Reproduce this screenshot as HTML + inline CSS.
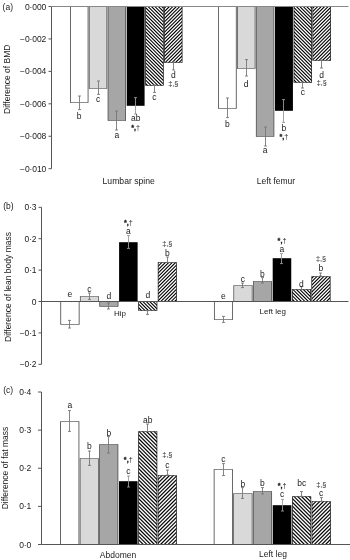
<!DOCTYPE html>
<html><head><meta charset="utf-8"><title>Figure</title>
<style>
html,body{margin:0;padding:0;background:#fff;}
body{width:350px;height:560px;overflow:hidden;}
svg{display:block;filter:grayscale(1);font-family:"Liberation Sans",sans-serif;fill:#1a1a1a;}
</style></head>
<body>
<svg width="350" height="560" viewBox="0 0 350 560">
<defs>
<linearGradient id="gab" gradientUnits="userSpaceOnUse" x1="0" y1="0" x2="1.7250" y2="-1.7250" spreadMethod="repeat"><stop offset="0" stop-color="#000"/><stop offset="0.03" stop-color="#000"/><stop offset="0.42" stop-color="#fff"/><stop offset="0.5800000000000001" stop-color="#fff"/><stop offset="0.97" stop-color="#000"/><stop offset="1" stop-color="#000"/></linearGradient>
<linearGradient id="gaf" gradientUnits="userSpaceOnUse" x1="0" y1="0" x2="1.7250" y2="1.7250" spreadMethod="repeat"><stop offset="0" stop-color="#000"/><stop offset="0.03" stop-color="#000"/><stop offset="0.42" stop-color="#fff"/><stop offset="0.5800000000000001" stop-color="#fff"/><stop offset="0.97" stop-color="#000"/><stop offset="1" stop-color="#000"/></linearGradient>
<linearGradient id="gbb" gradientUnits="userSpaceOnUse" x1="0" y1="0" x2="1.7250" y2="-1.7250" spreadMethod="repeat"><stop offset="0" stop-color="#000"/><stop offset="0.03" stop-color="#000"/><stop offset="0.42" stop-color="#fff"/><stop offset="0.5800000000000001" stop-color="#fff"/><stop offset="0.97" stop-color="#000"/><stop offset="1" stop-color="#000"/></linearGradient>
<linearGradient id="gbf" gradientUnits="userSpaceOnUse" x1="0" y1="0" x2="1.7250" y2="1.7250" spreadMethod="repeat"><stop offset="0" stop-color="#000"/><stop offset="0.03" stop-color="#000"/><stop offset="0.42" stop-color="#fff"/><stop offset="0.5800000000000001" stop-color="#fff"/><stop offset="0.97" stop-color="#000"/><stop offset="1" stop-color="#000"/></linearGradient>
<linearGradient id="gcb" gradientUnits="userSpaceOnUse" x1="0" y1="0" x2="1.8750" y2="-1.8750" spreadMethod="repeat"><stop offset="0" stop-color="#000"/><stop offset="0.03" stop-color="#000"/><stop offset="0.42" stop-color="#fff"/><stop offset="0.5800000000000001" stop-color="#fff"/><stop offset="0.97" stop-color="#000"/><stop offset="1" stop-color="#000"/></linearGradient>
<linearGradient id="gcf" gradientUnits="userSpaceOnUse" x1="0" y1="0" x2="1.8750" y2="1.8750" spreadMethod="repeat"><stop offset="0" stop-color="#000"/><stop offset="0.03" stop-color="#000"/><stop offset="0.42" stop-color="#fff"/><stop offset="0.5800000000000001" stop-color="#fff"/><stop offset="0.97" stop-color="#000"/><stop offset="1" stop-color="#000"/></linearGradient>

<pattern id="hb" patternUnits="userSpaceOnUse" width="1.8" height="10" patternTransform="rotate(-38)">
<rect x="0" y="0" width="1.8" height="10" fill="#fff"/><rect x="0" y="0" width="0.95" height="10" fill="#000"/>
</pattern>
<pattern id="hf" patternUnits="userSpaceOnUse" width="1.8" height="10" patternTransform="rotate(38)">
<rect x="0" y="0" width="1.8" height="10" fill="#fff"/><rect x="0" y="0" width="0.95" height="10" fill="#000"/>
</pattern>
</defs>
<rect x="0" y="0" width="350" height="560" fill="#fff"/>
<path d="M51.5 6.5V168.7" stroke="#555" stroke-width="1" fill="none"/>
<path d="M48.5 6.50h3" stroke="#555" stroke-width="1"/>
<text x="46.20" y="9.50" font-size="8.5" text-anchor="end"  letter-spacing="-0.1">0·000</text>
<path d="M48.5 38.94h3" stroke="#555" stroke-width="1"/>
<text x="46.20" y="41.94" font-size="8.5" text-anchor="end"  letter-spacing="-0.1">−0·002</text>
<path d="M48.5 71.38h3" stroke="#555" stroke-width="1"/>
<text x="46.20" y="74.38" font-size="8.5" text-anchor="end"  letter-spacing="-0.1">−0·004</text>
<path d="M48.5 103.82h3" stroke="#555" stroke-width="1"/>
<text x="46.20" y="106.82" font-size="8.5" text-anchor="end"  letter-spacing="-0.1">−0·006</text>
<path d="M48.5 136.26h3" stroke="#555" stroke-width="1"/>
<text x="46.20" y="139.26" font-size="8.5" text-anchor="end"  letter-spacing="-0.1">−0·008</text>
<path d="M48.5 168.70h3" stroke="#555" stroke-width="1"/>
<text x="46.20" y="171.70" font-size="8.5" text-anchor="end"  letter-spacing="-0.1">−0·010</text>
<text x="2.60" y="10.00" font-size="8.5" text-anchor="start" >(a)</text>
<text transform="translate(10.3 79.3) rotate(-90)" font-size="8.5" text-anchor="middle">Difference of BMD</text>
<rect x="70.40" y="6.50" width="17.66" height="96.00" fill="#ffffff"/>
<path fill-rule="evenodd" fill="#1a1a1a" d="M70.08 6.17H88.38V102.83H70.08ZM70.73 6.83H87.73V102.17H70.73Z"/>
<rect x="89.21" y="6.50" width="17.66" height="82.00" fill="#d9d9d9"/>
<path fill-rule="evenodd" fill="#333" d="M88.88 6.17H107.19V88.83H88.88ZM89.53 6.83H106.54V88.17H89.53Z"/>
<rect x="108.02" y="6.50" width="17.66" height="114.00" fill="#a6a6a6"/>
<path fill-rule="evenodd" fill="#333" d="M107.69 6.17H126.00V120.83H107.69ZM108.34 6.83H125.35V120.17H108.34Z"/>
<rect x="126.73" y="6.20" width="17.86" height="99.60" fill="#000"/>
<rect x="145.63" y="6.50" width="17.66" height="79.00" fill="url(#gab)"/>
<path fill-rule="evenodd" fill="#000" d="M145.31 6.17H163.62V85.83H145.31ZM145.96 6.83H162.97V85.17H145.96Z"/>
<rect x="164.44" y="6.50" width="17.66" height="56.00" fill="url(#gaf)"/>
<path fill-rule="evenodd" fill="#000" d="M164.12 6.17H182.42V62.83H164.12ZM164.77 6.83H181.78V62.17H164.77Z"/>
<path d="M79.50 96.00V109.60M78.00 96.00h3.0M78.00 109.60h3.0" stroke="#777" stroke-width="0.9" fill="none"/>
<path d="M98.50 81.00V94.40M97.00 81.00h3.0M97.00 94.40h3.0" stroke="#777" stroke-width="0.9" fill="none"/>
<path d="M116.50 111.00V130.00M115.00 111.00h3.0M115.00 130.00h3.0" stroke="#777" stroke-width="0.9" fill="none"/>
<path d="M135.50 97.60V114.00M134.00 97.60h3.0M134.00 114.00h3.0" stroke="#999" stroke-width="0.9" fill="none"/>
<path d="M154.50 85.00V92.40M153.00 85.00h3.0M153.00 92.40h3.0" stroke="#777" stroke-width="0.9" fill="none"/>
<path d="M173.50 62.00V70.00M172.00 62.00h3.0M172.00 70.00h3.0" stroke="#777" stroke-width="0.9" fill="none"/>
<text x="79.23" y="119.31" font-size="8.5" text-anchor="middle" >b</text>
<text x="98.04" y="101.91" font-size="8.5" text-anchor="middle" >c</text>
<text x="116.85" y="138.01" font-size="8.5" text-anchor="middle" >a</text>
<text x="135.65" y="121.21" font-size="8.5" text-anchor="middle" >ab</text>
<text x="135.65" y="130.26" font-size="7.2" text-anchor="middle" ><tspan font-weight="bold" stroke="#222" stroke-width="0.3">*,</tspan>†</text>
<text x="154.46" y="99.91" font-size="8.5" text-anchor="middle" >c</text>
<text x="173.27" y="77.81" font-size="8.5" text-anchor="middle" >d</text>
<text x="173.27" y="86.46" font-size="7.2" text-anchor="middle" >‡,§</text>
<rect x="218.50" y="6.50" width="17.72" height="102.00" fill="#ffffff"/>
<path fill-rule="evenodd" fill="#1a1a1a" d="M218.18 6.17H236.54V108.83H218.18ZM218.82 6.83H235.89V108.17H218.82Z"/>
<rect x="237.37" y="6.50" width="17.72" height="62.00" fill="#d9d9d9"/>
<path fill-rule="evenodd" fill="#333" d="M237.04 6.17H255.41V68.83H237.04ZM237.69 6.83H254.76V68.17H237.69Z"/>
<rect x="256.23" y="6.50" width="17.72" height="130.00" fill="#a6a6a6"/>
<path fill-rule="evenodd" fill="#333" d="M255.91 6.17H274.28V136.82H255.91ZM256.56 6.83H273.63V136.18H256.56Z"/>
<rect x="275.00" y="6.20" width="17.92" height="104.60" fill="#000"/>
<rect x="293.97" y="6.50" width="17.72" height="76.00" fill="url(#gab)"/>
<path fill-rule="evenodd" fill="#000" d="M293.64 6.17H312.01V82.83H293.64ZM294.29 6.83H311.36V82.17H294.29Z"/>
<rect x="312.83" y="6.50" width="17.72" height="54.00" fill="url(#gaf)"/>
<path fill-rule="evenodd" fill="#000" d="M312.51 6.17H330.88V60.83H312.51ZM313.16 6.83H330.23V60.17H313.16Z"/>
<path d="M227.50 98.00V117.60M226.00 98.00h3.0M226.00 117.60h3.0" stroke="#777" stroke-width="0.9" fill="none"/>
<path d="M246.50 59.60V76.00M245.00 59.60h3.0M245.00 76.00h3.0" stroke="#777" stroke-width="0.9" fill="none"/>
<path d="M265.50 127.00V146.00M264.00 127.00h3.0M264.00 146.00h3.0" stroke="#777" stroke-width="0.9" fill="none"/>
<path d="M283.50 99.60V122.40M282.00 99.60h3.0M282.00 122.40h3.0" stroke="#999" stroke-width="0.9" fill="none"/>
<path d="M302.50 82.00V88.00M301.00 82.00h3.0M301.00 88.00h3.0" stroke="#777" stroke-width="0.9" fill="none"/>
<path d="M321.50 60.00V68.00M320.00 60.00h3.0M320.00 68.00h3.0" stroke="#777" stroke-width="0.9" fill="none"/>
<text x="227.36" y="127.11" font-size="8.5" text-anchor="middle" >b</text>
<text x="246.23" y="87.11" font-size="8.5" text-anchor="middle" >d</text>
<text x="265.09" y="153.31" font-size="8.5" text-anchor="middle" >a</text>
<text x="283.96" y="131.10" font-size="8.5" text-anchor="middle" >b</text>
<text x="283.96" y="139.46" font-size="7.2" text-anchor="middle" ><tspan font-weight="bold" stroke="#222" stroke-width="0.3">*,</tspan>†</text>
<text x="302.82" y="95.31" font-size="8.5" text-anchor="middle" >c</text>
<text x="321.69" y="77.51" font-size="8.5" text-anchor="middle" >d</text>
<text x="321.69" y="85.16" font-size="7.2" text-anchor="middle" >‡,§</text>
<path d="M51.5 6.5H348.5" stroke="#888" stroke-width="1" fill="none"/>
<text x="128.70" y="184.00" font-size="8.65" text-anchor="middle" >Lumbar spine</text>
<text x="276.00" y="184.00" font-size="8.5" text-anchor="middle" >Left femur</text>
<path d="M41.5 207.3V364.3" stroke="#555" stroke-width="1" fill="none"/>
<path d="M38.5 207.30h3" stroke="#555" stroke-width="1"/>
<text x="36.50" y="210.30" font-size="8.5" text-anchor="end"  letter-spacing="-0.1">0·3</text>
<path d="M38.5 238.70h3" stroke="#555" stroke-width="1"/>
<text x="36.50" y="241.70" font-size="8.5" text-anchor="end"  letter-spacing="-0.1">0·2</text>
<path d="M38.5 270.10h3" stroke="#555" stroke-width="1"/>
<text x="36.50" y="273.10" font-size="8.5" text-anchor="end"  letter-spacing="-0.1">0·1</text>
<path d="M38.5 301.50h3" stroke="#555" stroke-width="1"/>
<text x="36.50" y="304.50" font-size="8.5" text-anchor="end"  letter-spacing="-0.1">0</text>
<path d="M38.5 332.90h3" stroke="#555" stroke-width="1"/>
<text x="36.50" y="335.90" font-size="8.5" text-anchor="end"  letter-spacing="-0.1">−0·1</text>
<path d="M38.5 364.30h3" stroke="#555" stroke-width="1"/>
<text x="36.50" y="367.30" font-size="8.5" text-anchor="end"  letter-spacing="-0.1">−0·2</text>
<text x="3.20" y="208.80" font-size="8.5" text-anchor="start" >(b)</text>
<text transform="translate(10.6 287) rotate(-90)" font-size="8.5" text-anchor="middle">Difference of lean body mass</text>
<rect x="60.80" y="301.50" width="18.32" height="23.00" fill="#ffffff"/>
<path fill-rule="evenodd" fill="#1a1a1a" d="M60.47 301.18H79.44V324.82H60.47ZM61.12 301.82H78.79V324.18H61.12Z"/>
<rect x="80.27" y="296.50" width="18.32" height="5.00" fill="#d9d9d9"/>
<path fill-rule="evenodd" fill="#333" d="M79.94 296.18H98.91V301.82H79.94ZM80.59 296.82H98.26V301.18H80.59Z"/>
<rect x="99.73" y="301.50" width="18.32" height="5.00" fill="#a6a6a6"/>
<path fill-rule="evenodd" fill="#333" d="M99.41 301.18H118.37V306.82H99.41ZM100.06 301.82H117.72V306.18H100.06Z"/>
<rect x="119.10" y="242.20" width="18.52" height="59.60" fill="#000"/>
<rect x="138.67" y="301.50" width="18.32" height="9.00" fill="url(#gbb)"/>
<path fill-rule="evenodd" fill="#000" d="M138.34 301.18H157.31V310.82H138.34ZM138.99 301.82H156.66V310.18H138.99Z"/>
<rect x="158.13" y="262.50" width="18.32" height="39.00" fill="url(#gbf)"/>
<path fill-rule="evenodd" fill="#000" d="M157.81 262.18H176.77V301.82H157.81ZM158.46 262.82H176.12V301.18H158.46Z"/>
<path d="M69.50 320.40V328.00M68.00 320.40h3.0M68.00 328.00h3.0" stroke="#777" stroke-width="0.9" fill="none"/>
<path d="M89.50 293.00V299.40M88.00 293.00h3.0M88.00 299.40h3.0" stroke="#777" stroke-width="0.9" fill="none"/>
<path d="M108.50 303.00V309.00M107.00 303.00h3.0M107.00 309.00h3.0" stroke="#777" stroke-width="0.9" fill="none"/>
<path d="M128.50 235.60V248.40M127.00 235.60h3.0M127.00 248.40h3.0" stroke="#999" stroke-width="0.9" fill="none"/>
<path d="M147.50 310.60V314.40M146.00 310.60h3.0M146.00 314.40h3.0" stroke="#777" stroke-width="0.9" fill="none"/>
<path d="M167.50 257.00V262.40M166.00 257.00h3.0M166.00 262.40h3.0" stroke="#777" stroke-width="0.9" fill="none"/>
<text x="69.96" y="297.31" font-size="8.5" text-anchor="middle" >e</text>
<text x="89.42" y="291.51" font-size="8.5" text-anchor="middle" >c</text>
<text x="108.89" y="298.50" font-size="8.5" text-anchor="middle" >d</text>
<text x="128.36" y="233.91" font-size="8.5" text-anchor="middle" >a</text>
<text x="128.36" y="224.86" font-size="7.2" text-anchor="middle" ><tspan font-weight="bold" stroke="#222" stroke-width="0.3">*,</tspan>†</text>
<text x="147.82" y="297.50" font-size="8.5" text-anchor="middle" >d</text>
<text x="167.29" y="255.60" font-size="8.5" text-anchor="middle" >b</text>
<text x="167.29" y="245.86" font-size="7.2" text-anchor="middle" >‡,§</text>
<rect x="214.30" y="301.50" width="18.35" height="18.00" fill="#ffffff"/>
<path fill-rule="evenodd" fill="#1a1a1a" d="M213.98 301.18H232.97V319.82H213.98ZM214.62 301.82H232.33V319.18H214.62Z"/>
<rect x="233.80" y="285.50" width="18.35" height="16.00" fill="#d9d9d9"/>
<path fill-rule="evenodd" fill="#333" d="M233.48 285.18H252.47V301.82H233.48ZM234.12 285.82H251.83V301.18H234.12Z"/>
<rect x="253.30" y="281.50" width="18.35" height="20.00" fill="#a6a6a6"/>
<path fill-rule="evenodd" fill="#333" d="M252.98 281.18H271.98V301.82H252.98ZM253.62 281.82H271.33V301.18H253.62Z"/>
<rect x="272.70" y="258.20" width="18.55" height="43.60" fill="#000"/>
<rect x="292.30" y="289.50" width="18.35" height="12.00" fill="url(#gbb)"/>
<path fill-rule="evenodd" fill="#000" d="M291.98 289.18H310.98V301.82H291.98ZM292.62 289.82H310.33V301.18H292.62Z"/>
<rect x="311.80" y="276.50" width="18.35" height="25.00" fill="url(#gbf)"/>
<path fill-rule="evenodd" fill="#000" d="M311.48 276.18H330.48V301.82H311.48ZM312.12 276.82H329.83V301.18H312.12Z"/>
<path d="M223.50 316.40V322.40M222.00 316.40h3.0M222.00 322.40h3.0" stroke="#777" stroke-width="0.9" fill="none"/>
<path d="M242.50 283.00V287.60M241.00 283.00h3.0M241.00 287.60h3.0" stroke="#777" stroke-width="0.9" fill="none"/>
<path d="M262.50 277.60V283.00M261.00 277.60h3.0M261.00 283.00h3.0" stroke="#777" stroke-width="0.9" fill="none"/>
<path d="M281.50 253.60V263.60M280.00 253.60h3.0M280.00 263.60h3.0" stroke="#999" stroke-width="0.9" fill="none"/>
<path d="M301.50 286.60V289.60M300.00 286.60h3.0M300.00 289.60h3.0" stroke="#777" stroke-width="0.9" fill="none"/>
<path d="M320.50 273.00V276.00M319.00 273.00h3.0M319.00 276.00h3.0" stroke="#777" stroke-width="0.9" fill="none"/>
<text x="223.48" y="298.51" font-size="8.5" text-anchor="middle" >e</text>
<text x="242.98" y="281.91" font-size="8.5" text-anchor="middle" >c</text>
<text x="262.48" y="276.50" font-size="8.5" text-anchor="middle" >b</text>
<text x="281.98" y="252.31" font-size="8.5" text-anchor="middle" >a</text>
<text x="281.98" y="242.86" font-size="7.2" text-anchor="middle" ><tspan font-weight="bold" stroke="#222" stroke-width="0.3">*,</tspan>†</text>
<text x="301.48" y="287.11" font-size="8.5" text-anchor="middle" >d</text>
<text x="320.98" y="271.00" font-size="8.5" text-anchor="middle" >b</text>
<text x="320.98" y="261.46" font-size="7.2" text-anchor="middle" >‡,§</text>
<path d="M41.5 301.5H348.5" stroke="#555" stroke-width="1" fill="none"/>
<text x="114.00" y="316.00" font-size="8" text-anchor="start" >Hip</text>
<text x="259.60" y="314.20" font-size="8" text-anchor="start" >Left leg</text>
<path d="M41.5 392V544.5" stroke="#555" stroke-width="1" fill="none"/>
<path d="M38.0 392.00h3.5" stroke="#555" stroke-width="1"/>
<text x="31.20" y="395.00" font-size="8.5" text-anchor="end"  letter-spacing="-0.1">0·4</text>
<path d="M38.0 430.12h3.5" stroke="#555" stroke-width="1"/>
<text x="31.20" y="433.12" font-size="8.5" text-anchor="end"  letter-spacing="-0.1">0·3</text>
<path d="M38.0 468.25h3.5" stroke="#555" stroke-width="1"/>
<text x="31.20" y="471.25" font-size="8.5" text-anchor="end"  letter-spacing="-0.1">0·2</text>
<path d="M38.0 506.38h3.5" stroke="#555" stroke-width="1"/>
<text x="31.20" y="509.38" font-size="8.5" text-anchor="end"  letter-spacing="-0.1">0·1</text>
<path d="M38.0 544.50h3.5" stroke="#555" stroke-width="1"/>
<text x="31.20" y="547.50" font-size="8.5" text-anchor="end"  letter-spacing="-0.1">0·0</text>
<text x="3.20" y="393.40" font-size="8.5" text-anchor="start" >(c)</text>
<text transform="translate(8.4 468) rotate(-90)" font-size="8.5" text-anchor="middle">Difference of fat mass</text>
<rect x="60.60" y="421.50" width="18.35" height="123.00" fill="#ffffff"/>
<path fill-rule="evenodd" fill="#1a1a1a" d="M60.27 421.18H79.27V544.83H60.27ZM60.93 421.82H78.62V544.17H60.93Z"/>
<rect x="80.10" y="458.50" width="18.35" height="86.00" fill="#d9d9d9"/>
<path fill-rule="evenodd" fill="#333" d="M79.77 458.18H98.77V544.83H79.77ZM80.42 458.82H98.12V544.17H80.42Z"/>
<rect x="99.60" y="444.50" width="18.35" height="100.00" fill="#a6a6a6"/>
<path fill-rule="evenodd" fill="#333" d="M99.27 444.18H118.27V544.83H99.27ZM99.92 444.82H117.62V544.17H99.92Z"/>
<rect x="119.00" y="481.20" width="18.55" height="63.60" fill="#000"/>
<rect x="138.60" y="431.50" width="18.35" height="113.00" fill="url(#gcb)"/>
<path fill-rule="evenodd" fill="#000" d="M138.28 431.18H157.27V544.83H138.28ZM138.92 431.82H156.62V544.17H138.92Z"/>
<rect x="158.10" y="475.50" width="18.35" height="69.00" fill="url(#gcf)"/>
<path fill-rule="evenodd" fill="#000" d="M157.78 475.18H176.77V544.83H157.78ZM158.42 475.82H176.12V544.17H158.42Z"/>
<path d="M69.50 410.60V431.40M68.00 410.60h3.0M68.00 431.40h3.0" stroke="#777" stroke-width="0.9" fill="none"/>
<path d="M89.50 451.00V465.40M88.00 451.00h3.0M88.00 465.40h3.0" stroke="#777" stroke-width="0.9" fill="none"/>
<path d="M108.50 436.60V453.00M107.00 436.60h3.0M107.00 453.00h3.0" stroke="#777" stroke-width="0.9" fill="none"/>
<path d="M128.50 476.00V487.00M127.00 476.00h3.0M127.00 487.00h3.0" stroke="#999" stroke-width="0.9" fill="none"/>
<path d="M147.50 424.00V431.60M146.00 424.00h3.0M146.00 431.60h3.0" stroke="#777" stroke-width="0.9" fill="none"/>
<path d="M167.50 470.00V475.00M166.00 470.00h3.0M166.00 475.00h3.0" stroke="#777" stroke-width="0.9" fill="none"/>
<text x="69.77" y="407.91" font-size="8.5" text-anchor="middle" >a</text>
<text x="89.27" y="448.50" font-size="8.5" text-anchor="middle" >b</text>
<text x="108.77" y="435.50" font-size="8.5" text-anchor="middle" >b</text>
<text x="128.27" y="473.91" font-size="8.5" text-anchor="middle" >c</text>
<text x="128.27" y="462.46" font-size="7.2" text-anchor="middle" ><tspan font-weight="bold" stroke="#222" stroke-width="0.3">*,</tspan>†</text>
<text x="147.77" y="422.70" font-size="8.5" text-anchor="middle" >ab</text>
<text x="167.27" y="467.91" font-size="8.5" text-anchor="middle" >c</text>
<text x="167.27" y="457.46" font-size="7.2" text-anchor="middle" >‡,§</text>
<rect x="214.10" y="469.50" width="18.43" height="75.00" fill="#ffffff"/>
<path fill-rule="evenodd" fill="#1a1a1a" d="M213.78 469.18H232.86V544.83H213.78ZM214.42 469.82H232.21V544.17H214.42Z"/>
<rect x="233.68" y="493.50" width="18.43" height="51.00" fill="#d9d9d9"/>
<path fill-rule="evenodd" fill="#333" d="M233.36 493.18H252.44V544.83H233.36ZM234.01 493.82H251.79V544.17H234.01Z"/>
<rect x="253.27" y="491.50" width="18.43" height="53.00" fill="#a6a6a6"/>
<path fill-rule="evenodd" fill="#333" d="M252.94 491.18H272.03V544.83H252.94ZM253.59 491.82H271.38V544.17H253.59Z"/>
<rect x="272.75" y="505.20" width="18.63" height="39.60" fill="#000"/>
<rect x="292.43" y="496.50" width="18.43" height="48.00" fill="url(#gcb)"/>
<path fill-rule="evenodd" fill="#000" d="M292.11 496.18H311.19V544.83H292.11ZM292.76 496.82H310.54V544.17H292.76Z"/>
<rect x="312.02" y="501.50" width="18.43" height="43.00" fill="url(#gcf)"/>
<path fill-rule="evenodd" fill="#000" d="M311.69 501.18H330.78V544.83H311.69ZM312.34 501.82H330.13V544.17H312.34Z"/>
<path d="M223.50 463.60V475.60M222.00 463.60h3.0M222.00 475.60h3.0" stroke="#777" stroke-width="0.9" fill="none"/>
<path d="M242.50 487.60V498.40M241.00 487.60h3.0M241.00 498.40h3.0" stroke="#777" stroke-width="0.9" fill="none"/>
<path d="M262.50 487.60V494.00M261.00 487.60h3.0M261.00 494.00h3.0" stroke="#777" stroke-width="0.9" fill="none"/>
<path d="M282.50 499.40V511.00M281.00 499.40h3.0M281.00 511.00h3.0" stroke="#999" stroke-width="0.9" fill="none"/>
<path d="M301.50 491.60V496.40M300.00 491.60h3.0M300.00 496.40h3.0" stroke="#777" stroke-width="0.9" fill="none"/>
<path d="M321.50 497.60V501.40M320.00 497.60h3.0M320.00 501.40h3.0" stroke="#777" stroke-width="0.9" fill="none"/>
<text x="223.32" y="461.91" font-size="8.5" text-anchor="middle" >c</text>
<text x="242.90" y="486.50" font-size="8.5" text-anchor="middle" >b</text>
<text x="262.48" y="485.50" font-size="8.5" text-anchor="middle" >b</text>
<text x="282.07" y="497.31" font-size="8.5" text-anchor="middle" >c</text>
<text x="282.07" y="488.46" font-size="7.2" text-anchor="middle" ><tspan font-weight="bold" stroke="#222" stroke-width="0.3">*,</tspan>†</text>
<text x="301.65" y="485.50" font-size="8.5" text-anchor="middle" >bc</text>
<text x="321.23" y="495.81" font-size="8.5" text-anchor="middle" >c</text>
<text x="321.23" y="486.66" font-size="7.2" text-anchor="middle" >‡,§</text>
<path d="M41.5 544.5H350" stroke="#555" stroke-width="1" fill="none"/>
<text x="118.00" y="557.50" font-size="8.5" text-anchor="middle" >Abdomen</text>
<text x="273.00" y="557.20" font-size="8.5" text-anchor="middle" >Left leg</text>
</svg>
</body></html>
